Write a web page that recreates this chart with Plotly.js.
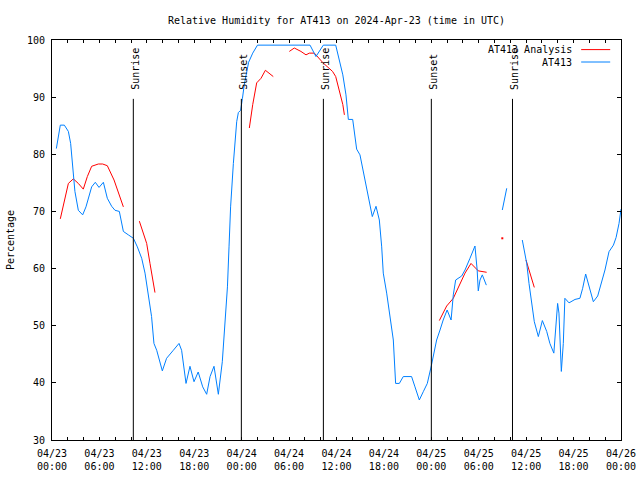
<!DOCTYPE html>
<html>
<head>
<meta charset="utf-8">
<script src="https://cdn.plot.ly/plotly-3.0.1.min.js"></script>
<style>html,body{margin:0;padding:0;background:#fff;}#chart{width:640px;height:480px;}</style>
</head>
<body>
<div id="chart"></div>
<script>
// Hours after 2024-04-23 00:00 UTC; null = gap
const obsHours = [0.55,1.05,1.56,2.07,2.36,2.7,2.9,3.33,3.88,4.3,4.73,5.02,5.48,5.95,6.5,7.0,7.55,7.97,8.52,9.03,9.66,10.3,10.8,11.35,11.77,12.19,12.6,12.9,13.25,13.96,14.5,15.35,16.07,16.4,16.7,16.96,17.46,17.97,18.5,19.07,19.57,20.0,20.5,21.05,21.55,21.9,22.2,22.4,22.6,22.95,23.37,23.58,23.87,24.1,24.33,24.88,25.4,26.0,32.65,33.4,34.33,35.9,36.35,36.8,37.2,37.5,38.05,38.34,38.55,38.97,39.39,39.82,40.15,40.53,41.0,41.42,41.72,41.92,42.35,42.77,43.19,43.48,43.95,44.45,45.5,45.93,46.48,46.98,47.49,48.0,48.67,49.1,49.5,50.0,50.5,50.78,51.08,51.84,52.26,52.89,53.52,53.8,53.94,54.16,54.45,54.96,null,56.98,57.24,57.54,null,59.51,59.77,60.07,60.36,60.7,61.03,61.54,62.05,62.6,63.0,63.5,63.73,63.98,64.15,64.3,64.45,64.7,64.9,65.42,66.18,66.8,67.15,67.53,67.95,68.5,69.05,69.47,69.97,70.48,71.04,71.38,71.75,72.0];
const obsRH = [81.0,85.1,85.1,84.0,81.9,77.0,73.5,70.2,69.4,70.8,73.2,74.3,75.1,74.2,75.1,72.3,70.9,70.2,70.0,66.5,65.9,65.3,63.8,61.8,59.2,55.7,51.6,46.9,45.7,42.1,44.3,45.7,46.9,45.7,42.9,39.9,42.9,40.2,41.9,39.3,38.0,41.1,42.9,38.0,43.7,51.0,56.8,63.8,70.8,78.4,85.7,87.3,87.7,89.8,92.2,96.1,97.7,99.1,99.1,97.1,99.1,99.1,96.6,93.9,90.4,86.1,86.1,82.8,80.9,79.9,77.0,73.75,72.0,69.1,70.9,68.5,63.8,59.2,55.7,51.6,47.5,39.9,39.9,41.1,41.1,39.3,37.0,38.45,39.9,43.0,47.5,49.25,51.0,52.75,51.0,55.4,58.0,58.7,59.75,61.8,63.95,59.75,56.1,58.0,58.9,57.1,null,70.25,72.3,74.05,null,65.0,62.95,60.9,57.4,53.9,50.7,48.1,50.9,49.0,46.9,45.2,48.7,53.9,52.2,47.5,42.0,46.9,54.8,54.0,54.6,54.8,56.55,59.05,56.8,54.2,55.2,57.4,59.75,62.95,64.1,65.45,67.9,70.4];

const anaHours = [1.05,1.65,2.07,2.7,3.33,3.96,4.47,5.02,5.86,6.41,7.0,7.85,8.52,9.03,null,11.05,11.98,12.4,13.03,null,24.97,25.4,25.9,26.45,27.0,27.5,28.0,null,30.03,30.66,31.5,32.14,32.56,33.2,34.3,35.0,35.5,35.9,36.35,36.8,37.0,null,49.01,49.94,50.78,51.63,52.26,53.02,53.74,53.94,55.0,null,59.98,60.48,61.03];
const anaRH = [68.7,72.6,74.9,75.7,74.9,73.9,76.1,77.9,78.3,78.3,78.0,75.5,72.9,70.8,null,68.3,64.4,60.9,55.8,null,84.6,88.7,92.5,93.3,94.7,94.2,93.6,null,98.0,98.6,98.0,97.4,97.7,97.7,96.0,95.2,94.5,93.6,91.0,88.7,86.9,null,50.9,53.45,54.8,57.4,59.2,60.9,59.9,59.6,59.35,null,61.5,59.2,56.7];
const anaSingleHours = [56.98];
const anaSingleRH = [65.3];

const eventHours = [10.29, 23.96, 34.34, 48.0, 58.27];
const eventLabels = ['Sunrise','Sunset','Sunrise','Sunset','Sunrise'];

const tickHours = [0,6,12,18,24,30,36,42,48,54,60,66,72];
const tickDays  = ['04/23','04/23','04/23','04/23','04/24','04/24','04/24','04/24','04/25','04/25','04/25','04/25','04/26'];
const tickTimes = ['00:00','06:00','12:00','18:00','00:00','06:00','12:00','18:00','00:00','06:00','12:00','18:00','00:00'];

const seriesNames = ['AT413 Analysis','AT413'];
const seriesColors = ['#ff0000','#0080ff'];

const base = Date.UTC(2024,3,23,0,0,0);
function toDate(h){
  if(h===null) return null;
  return new Date(base + Math.round(h*3600000)).toISOString().replace('T',' ').slice(0,19);
}

const font = 'DejaVu Sans Mono';
const traces = [
  {x: anaHours.map(toDate), y: anaRH, mode:'lines', name: seriesNames[0], connectgaps:false,
   line:{color:seriesColors[0], width:1}, showlegend:false},
  {x: anaSingleHours.map(toDate), y: anaSingleRH, mode:'markers', name: seriesNames[0],
   marker:{color:seriesColors[0], size:2, symbol:'square'}, showlegend:false},
  {x: obsHours.map(toDate), y: obsRH, mode:'lines', name: seriesNames[1], connectgaps:false,
   line:{color:seriesColors[1], width:1}, showlegend:false}
];

const shapes = eventHours.map(h => ({type:'line', xref:'x', yref:'y', x0:toDate(h), x1:toDate(h), y0:30, y1:89.7,
  line:{color:'#000', width:1}}));
const annotations = eventHours.map((h,i) => ({xref:'x', yref:'y', x:toDate(h), y:90.9, text:eventLabels[i],
  textangle:-90, showarrow:false, xanchor:'center', yanchor:'bottom', xshift:1.5,
  font:{family:font, size:10, color:'#000'}}));

// manual gnuplot-style key
const keyY = [0.976, 0.945];
seriesNames.forEach((n,i) => {
  annotations.push({xref:'paper', yref:'paper', x:0.918, y:keyY[i], text:n, showarrow:false,
    xanchor:'right', yanchor:'middle', font:{family:font, size:10, color:'#000'}});
  shapes.push({type:'line', xref:'paper', yref:'paper', x0:0.930, x1:0.981, y0:keyY[i], y1:keyY[i],
    line:{color:seriesColors[i], width:1}});
});

const layout = {
  width:640, height:480,
  margin:{l:52, r:19, t:40, b:40},
  paper_bgcolor:'#fff', plot_bgcolor:'#fff',
  font:{family:font, size:10, color:'#000'},
  title:{text:'Relative Humidity for AT413 on 2024-Apr-23 (time in UTC)', x:0.5, xref:'paper',
    y:1-20/480, yref:'container', yanchor:'middle', font:{family:font, size:10, color:'#000'}},
  xaxis:{type:'date', range:[toDate(0), toDate(72)],
    tickmode:'array', tickvals:tickHours.map(toDate), ticktext:tickDays.map((d,i)=>d+'<br>'+tickTimes[i]),
    ticks:'inside', ticklen:3, tickcolor:'#000', showgrid:false, zeroline:false,
    showline:true, linecolor:'#000', linewidth:1, mirror:'ticks', ticklabelstandoff:4,
    minor:{dtick:7200000, tick0:toDate(0), ticks:'inside', ticklen:3, tickcolor:'#000', showgrid:false},
    tickfont:{family:font, size:10, color:'#000'}},
  xaxis2:{type:'date', overlaying:'x', side:'top', range:[toDate(0), toDate(72)],
    tickmode:'linear', tick0:toDate(0), dtick:7200000, ticks:'inside', ticklen:3, tickcolor:'#000',
    showticklabels:false, showgrid:false, zeroline:false, showline:false},
  yaxis:{range:[30,100], dtick:10, tick0:30, ticks:'inside', ticklen:4, tickcolor:'#000',
    showgrid:false, zeroline:false, showline:true, linecolor:'#000', linewidth:1, mirror:'ticks',
    ticklabelstandoff:4,
    title:{text:'Percentage', standoff:10, font:{family:font, size:10, color:'#000'}},
    tickfont:{family:font, size:10, color:'#000'}},
  shapes: shapes,
  annotations: annotations,
  showlegend:false
};

Plotly.newPlot('chart', traces, layout, {staticPlot:true, displayModeBar:false});
</script>
</body>
</html>
